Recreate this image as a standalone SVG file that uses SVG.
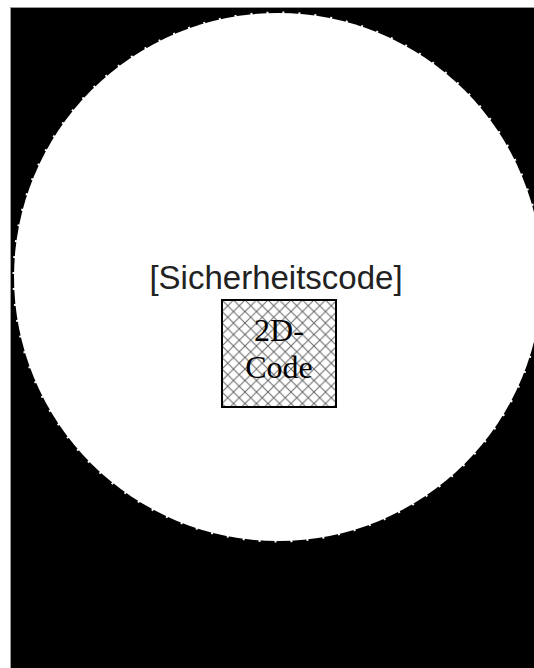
<svg xmlns="http://www.w3.org/2000/svg" width="534" height="668" viewBox="0 0 534 668">
  <style>
    .label { font-family: "Liberation Sans", Arial, sans-serif; font-size: 33px; fill: #222; }
    .code { font-family: "Liberation Serif", "Times New Roman", serif; font-size: 32px; fill: #000; }
  </style>
  <defs>
    <pattern id="hatch" patternUnits="userSpaceOnUse" x="222" y="300" width="11.5" height="11.5">
      <path d="M0,0 L11.5,11.5 M11.5,0 L0,11.5" stroke="#666" stroke-width="1" fill="none"/>
    </pattern>
  </defs>
  <rect x="0" y="0" width="534" height="668" fill="#fff"/>
  <g id="background">
    <rect x="10.5" y="7.5" width="530" height="670" fill="#000" stroke="#999" stroke-width="1"/>
  </g>
  <g id="disc">
    <circle cx="278" cy="277" r="264" fill="#fff" stroke="#fff" stroke-width="3" stroke-dasharray="2 14"/>
  </g>
  <g id="label">
    <text class="label" x="276" y="289" text-anchor="middle">[Sicherheitscode]</text>
  </g>
  <g id="code2d">
    <rect x="222" y="300" width="114" height="107" fill="url(#hatch)" stroke="#000" stroke-width="2"/>
    <text class="code" x="279" y="341" text-anchor="middle">2D-</text>
    <text class="code" x="279" y="378" text-anchor="middle">Code</text>
  </g>
  <g id="connectors"/>
</svg>
